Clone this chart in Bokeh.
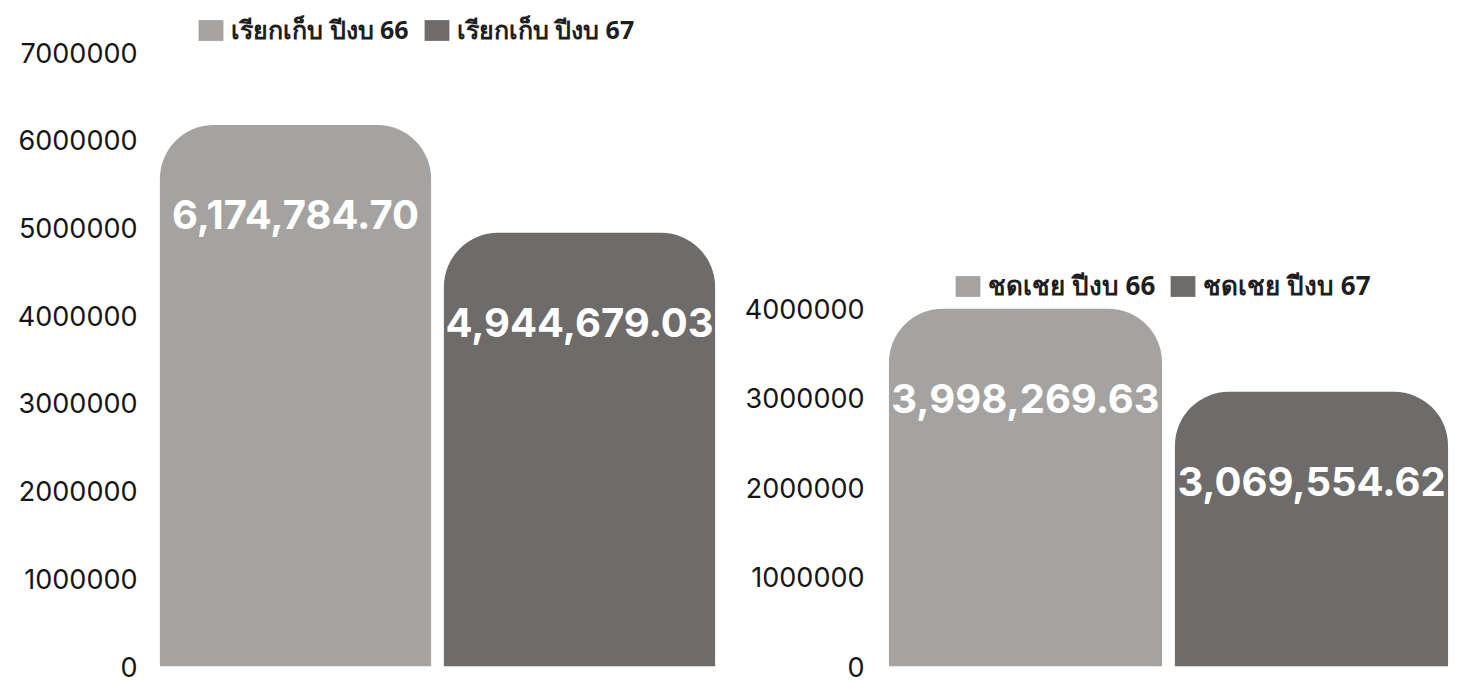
from bokeh.plotting import figure
from bokeh.layouts import row
from bokeh.models import (ColumnDataSource, FactorRange, Range1d, FixedTicker,
                          NumeralTickFormatter, Legend, LegendItem)
from bokeh.transform import factor_cmap
from bokeh.core.properties import value
from bokeh.embed import file_html
from bokeh.resources import INLINE

left_labels = ["เรียกเก็บ ปีงบ 66", "เรียกเก็บ ปีงบ 67"]
left_values = [6174784.70, 4944679.03]
left_ticks = [0, 1000000, 2000000, 3000000, 4000000, 5000000, 6000000, 7000000]

right_labels = ["ชดเชย ปีงบ 66", "ชดเชย ปีงบ 67"]
right_values = [3998269.63, 3069554.62]
right_ticks = [0, 1000000, 2000000, 3000000, 4000000]

colors = ["#a5a3a1", "#6e6c6a"]

HEIGHT = 684
TOP = 8
FONT = "Inter"


def make_panel(labels, values, ticks, width, border_left, border_right,
               border_bottom, y_end, legend_loc, legend_size, standoff):
    src = ColumnDataSource(dict(
        label=labels,
        value=values,
        text=[f"{v:,.2f}" for v in values],
    ))
    p = figure(
        x_range=FactorRange(factors=labels, range_padding=0),
        y_range=Range1d(0, y_end),
        width=width, height=HEIGHT,
        output_backend="svg", toolbar_location=None,
        min_border_left=border_left, min_border_right=border_right,
        min_border_top=TOP, min_border_bottom=border_bottom,
    )
    r = p.vbar(x="label", top="value", width=0.955, source=src,
               fill_color=factor_cmap("label", palette=colors, factors=labels),
               line_color=None, border_radius=(54, 54, 0, 0))
    p.text(x="label", y="value", text="text", source=src, y_offset=90,
           text_align="center", text_baseline="middle",
           text_color="white", text_font=value(FONT), text_font_style="bold",
           text_font_size="40px")
    legend = Legend(
        items=[LegendItem(label=lab, renderers=[r], index=i) for i, lab in enumerate(labels)],
        location=legend_loc, orientation="horizontal",
    )
    legend.label_text_font = "Noto Sans"
    legend.label_text_font_style = "bold"
    legend.label_text_font_size = legend_size
    legend.label_text_color = "#1e1e1e"
    legend.glyph_width = 31
    legend.glyph_height = 26
    legend.label_standoff = 5
    legend.spacing = 12
    legend.padding = 0
    legend.margin = 0
    legend.border_line_alpha = 0
    legend.background_fill_alpha = 0
    p.add_layout(legend)

    p.xaxis.visible = False
    p.xgrid.visible = False
    p.ygrid.visible = False
    p.outline_line_color = None
    p.yaxis.ticker = FixedTicker(ticks=ticks)
    p.yaxis.formatter = NumeralTickFormatter(format="0")
    p.yaxis.axis_line_color = None
    p.yaxis.major_tick_line_color = None
    p.yaxis.minor_tick_line_color = None
    p.yaxis.major_label_text_font = FONT
    p.yaxis.major_label_text_font_size = "27px"
    p.yaxis.major_label_text_font_style = "normal"
    p.yaxis.major_label_text_color = "#151515"
    p.yaxis.major_label_standoff = standoff
    return p


p1 = make_panel(left_labels, left_values, left_ticks, 722, 153, 1,
                12, 7503000, (42, 616), "25px", 10)
p2 = make_panel(right_labels, right_values, right_ticks, 736, 160, 4,
                18, 7352000, (70, 360), "26px", 12)

layout = row(p1, p2, spacing=0)
open("out.html", "w").write(file_html(layout, INLINE))
